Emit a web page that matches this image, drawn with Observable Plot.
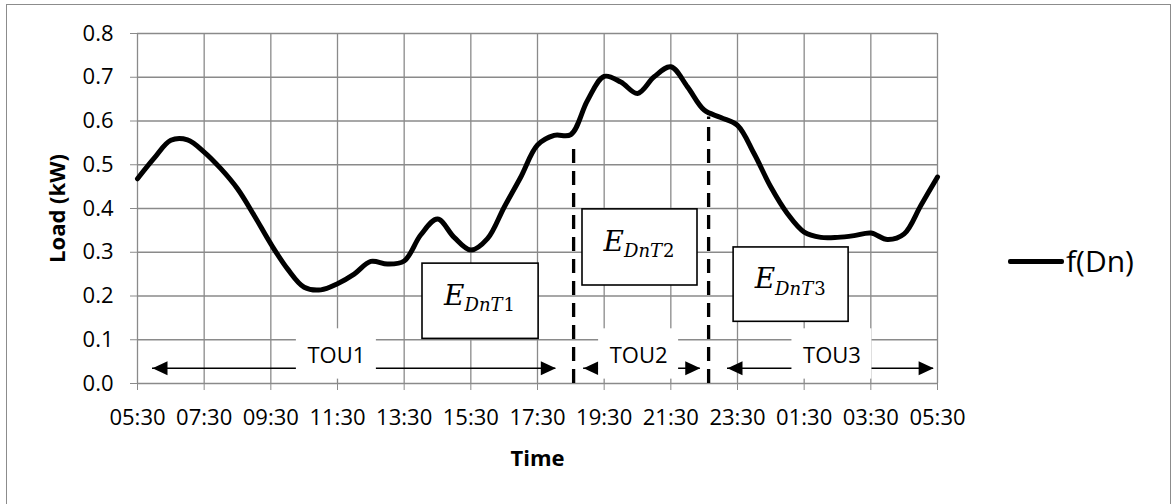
<!DOCTYPE html>
<html><head><meta charset="utf-8">
<script src="https://cdn.jsdelivr.net/npm/d3@7"></script>
<script src="https://cdn.jsdelivr.net/npm/@observablehq/plot@0.6"></script>
<style>
html,body{margin:0;padding:0;background:#fff;overflow:hidden;}
#wrap{position:relative;width:1173px;height:504px;}
#border{position:absolute;left:6px;top:4px;width:1165px;height:600px;border:1px solid #8c8c8c;box-sizing:border-box;}
#chart svg{position:absolute;left:0;top:0;}
#legend{position:absolute;left:1008px;top:241px;height:40px;display:flex;align-items:center;font-family:"Open Sans",sans-serif;font-size:30px;color:#000;line-height:40px;}
#legend .sw{display:inline-block;width:56px;height:5px;background:#000;border-radius:2px;margin-right:2px;}
</style></head>
<body><div id="wrap"><div id="border"></div><div id="chart"></div>
<div id="legend"><span class="sw"></span><span id="legname"></span></div></div>
<script>
// ---- data ----
const seriesName = "f(Dn)";
const times = ["05:30","06:00","06:30","07:00","07:30","08:00","08:30","09:00","09:30","10:00","10:30","11:00","11:30","12:00","12:30","13:00","13:30","14:00","14:30","15:00","15:30","16:00","16:30","17:00","17:30","18:00","18:30","19:00","19:30","20:00","20:30","21:00","21:30","22:00","22:30","23:00","23:30","00:00","00:30","01:00","01:30","02:00","02:30","03:00","03:30","04:00","04:30","05:00","05:30"];
const loads = [0.468,0.515,0.556,0.557,0.529,0.491,0.445,0.384,0.319,0.262,0.220,0.214,0.228,0.250,0.279,0.273,0.280,0.340,0.376,0.334,0.305,0.331,0.403,0.472,0.545,0.567,0.569,0.647,0.702,0.689,0.663,0.701,0.724,0.678,0.625,0.608,0.590,0.525,0.449,0.388,0.346,0.334,0.334,0.338,0.344,0.329,0.342,0.407,0.472];
const tickLabels = ["05:30","07:30","09:30","11:30","13:30","15:30","17:30","19:30","21:30","23:30","01:30","03:30","05:30"];
const yTicks = [0,0.1,0.2,0.3,0.4,0.5,0.6,0.7,0.8];
const xTitle = "Time";
const yTitle = "Load (kW)";

const touNames = ["TOU1","TOU2","TOU3"];
const touStart = ["05:57","18:53","23:12"];
const touEnd = ["18:03","22:23","05:23"];
const touLabelAt = ["11:28","20:32","02:20"];
const touArrowLevel = 0.035;
const touLabelLevel = 0.063;

const boundaryTimes = ["18:35","22:38"];
const boundaryLoads = [0.549,0.609];

const eSubs = ["DnT","DnT","DnT"];
const eDigits = ["1","2","3"];
const eStart = ["14:03","18:51","23:23"];
const eEnd = ["17:32","22:18","02:50"];
const eTop = [0.274,0.398,0.311];
const eBottom = [0.102,0.224,0.141];

// ---- helpers ----
const toOff = s => { const [h,m] = s.split(":").map(Number); let o = (h*60+m-330)/60; if (o < 0) o += 24; return o; };
let prev = -1;
const series = times.map((t,i) => { let o = toOff(t); if (o <= prev) o += 24; prev = o; return {x:o, y:loads[i]}; });
const tickPos = tickLabels.map((_,i) => i*2);
const tou = touNames.map((n,i) => { const a = toOff(touStart[i]); let b = toOff(touEnd[i]); if (b < a) b += 24; return {name:n, x1:a, x2:b, lx:toOff(touLabelAt[i])}; });
const bounds = boundaryTimes.map((t,i) => ({x:toOff(t), v:boundaryLoads[i]}));
const eBoxes = eSubs.map((s,i) => { const a = toOff(eStart[i]); let b = toOff(eEnd[i]); if (b < a) b += 24; return {sub:s, dig:eDigits[i], x1:a, x2:b, y1:eBottom[i], y2:eTop[i], cx:(a+b)/2, cy:(eTop[i]+eBottom[i])/2}; });

// measure subscript width for placing upright digit
const cv = document.createElement("canvas").getContext("2d");
cv.font = 'italic 18px "DejaVu Serif"';
const subW = cv.measureText("DnT").width;

const headRight = {draw(ctx){ ctx.moveTo(0,0); ctx.lineTo(-15,-7); ctx.lineTo(-15,7); ctx.closePath(); }};
const headLeft = {draw(ctx){ ctx.moveTo(0,0); ctx.lineTo(15,-7); ctx.lineTo(15,7); ctx.closePath(); }};
const gridColor = "#8a8a8a";

const chart = Plot.plot({
  width: 1173, height: 504,
  marginLeft: 137, marginRight: 236, marginTop: 33, marginBottom: 121,
  style: {fontFamily: '"Open Sans", sans-serif', fontSize: "22px", color: "#000", background: "transparent", overflow: "visible"},
  x: {domain: [0,24], label: null},
  y: {domain: [0,0.8], label: null},
  marks: [
    Plot.gridX(tickPos, {stroke: gridColor, strokeOpacity: 1, strokeWidth: 1.3}),
    Plot.gridY(yTicks, {stroke: gridColor, strokeOpacity: 1, strokeWidth: 1.3}),
    Plot.axisX(tickPos, {tickFormat: d => tickLabels[Math.round(d/2)], tickSize: 7, tickPadding: 19, stroke: gridColor, fill: "#000", label: null, fontSize: 22}),
    Plot.axisY(yTicks, {tickFormat: d => d.toFixed(1), tickSize: 7, tickPadding: 17, stroke: gridColor, fill: "#000", label: null, fontSize: 22}),
    Plot.text([xTitle], {frameAnchor: "bottom", dy: 75, lineAnchor: "middle", textAnchor: "middle", fontWeight: "bold", fontSize: 22, fill: "#000"}),
    Plot.text([yTitle], {frameAnchor: "left", dx: -80, rotate: -90, textAnchor: "middle", lineAnchor: "middle", fontWeight: "bold", fontSize: 22, fill: "#000"}),
    // TOU arrows
    Plot.ruleY(tou, {y: () => touArrowLevel, x1: "x1", x2: "x2", stroke: "#000", strokeWidth: 1.5}),
    Plot.dot(tou, {x: "x1", y: () => touArrowLevel, symbol: headLeft, fill: "#000", stroke: "none"}),
    Plot.dot(tou, {x: "x2", y: () => touArrowLevel, symbol: headRight, fill: "#000", stroke: "none"}),
    Plot.rect(tou, {x1: d => d.lx - 1.2, x2: d => d.lx + 1.2, y1: () => 0.01, y2: () => 0.125, fill: "#fff"}),
    Plot.text(tou, {x: "lx", y: () => touLabelLevel, text: "name", fontSize: 22, fill: "#000"}),
    // boundaries
    Plot.ruleX(bounds, {x: "x", y1: () => 0, y2: "v", stroke: "#000", strokeWidth: 3.3, strokeDasharray: "14,8"}),
    // energy boxes
    Plot.rect(eBoxes, {x1: "x1", x2: "x2", y1: "y1", y2: "y2", fill: "#fff", stroke: "#000", strokeWidth: 1.6}),
    Plot.text(eBoxes, {x: "cx", y: "cy", text: () => "E", fontFamily: "DejaVu Serif", fontStyle: "italic", fontSize: 28, textAnchor: "end", dx: -16, dy: -5.6, fill: "#000"}),
    Plot.text(eBoxes, {x: "cx", y: "cy", text: "sub", fontFamily: "DejaVu Serif", fontStyle: "italic", fontSize: 18, textAnchor: "start", dx: -16, dy: 4.2, fill: "#000"}),
    Plot.text(eBoxes, {x: "cx", y: "cy", text: "dig", fontFamily: "DejaVu Serif", fontSize: 18, textAnchor: "start", dx: -16 + subW + 1, dy: 4.2, fill: "#000"}),
    // curve
    Plot.line(series, {x: "x", y: "y", curve: "catmull-rom", stroke: "#000", strokeWidth: 5})
  ]
});
document.getElementById("chart").appendChild(chart);
document.getElementById("legname").textContent = seriesName;
</script>
</body></html>
